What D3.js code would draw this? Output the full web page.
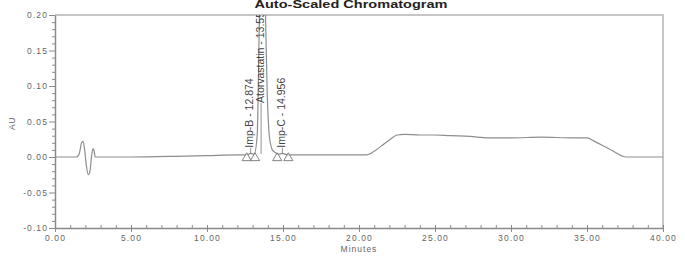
<!DOCTYPE html>
<html>
<head>
<meta charset="utf-8">
<script src="https://cdn.jsdelivr.net/npm/d3@7"></script>
<style>
  body { margin: 0; background: #fff; }
  svg { display: block; font-family: "Liberation Sans", Arial, sans-serif; }
</style>
</head>
<body>
<div class="container"></div>
<script>
// trace (minutes, AU)
const traceTime = [0, 1.4, 1.6, 1.75, 1.85, 1.95, 2.05, 2.2, 2.3, 2.4, 2.5, 2.56, 2.65, 2.8,
  5, 8, 10, 12, 12.6, 12.874, 13.1, 13.3, 13.45, 13.6, 13.75, 13.85, 13.95, 14.1, 14.3, 14.5,
  14.7, 14.956, 15.3, 17, 20.5, 21.0, 21.5, 22.0, 22.5, 23.0, 24, 25, 26, 27.3, 28.5, 30, 32, 34,
  35, 35.5, 36.5, 37.6, 40];
const traceAU = [0.000, 0.000, 0.005, 0.020, 0.022, 0.010, -0.010, -0.025, -0.020, 0.000, 0.012, 0.010, 0.000, 0.000,
  0.000, 0.001, 0.002, 0.003, 0.003, 0.005, 0.004, 0.030, 0.200, 0.400, 0.300, 0.200, 0.100, 0.030, 0.010, 0.006,
  0.004, 0.005, 0.003, 0.003, 0.003, 0.008, 0.016, 0.024, 0.031, 0.032, 0.031, 0.031, 0.030, 0.029, 0.027, 0.027, 0.028, 0.027,
  0.027, 0.022, 0.011, 0.000, 0.000];

// peak labels
const peakNames = ["Imp-B", "Atorvastatin", "Imp-C"];
const peakTimes = [12.874, 13.559, 14.956];
const peakLabelAU = [0.013, 0.076, 0.013]; // where each label starts

// integration markers (triangles on the baseline)
const markerTimes = [12.61, 13.16, 14.62, 15.35];

// axes
const xTicks = [0, 5, 10, 15, 20, 25, 30, 35, 40];
const xTickLabels = ["0.00", "5.00", "10.00", "15.00", "20.00", "25.00", "30.00", "35.00", "40.00"];
const yTicks = [-0.10, -0.05, 0.00, 0.05, 0.10, 0.15, 0.20];
const yTickLabels = ["-0.10", "-0.05", "0.00", "0.05", "0.10", "0.15", "0.20"];

const WIDTH = 685, HEIGHT = 260;
const MARGIN = { top: 15, right: 22, bottom: 32, left: 55 };
const AXIS_COLOR = "#8a8a8a";
const FRAME_COLOR = "#b4b4b4";
const TEXT_COLOR = "#666";

const svg = d3.select(".container")
  .append("svg")
  .attr("width", WIDTH)
  .attr("height", HEIGHT)
  .attr("viewBox", `0 0 ${WIDTH} ${HEIGHT}`);

svg.append("rect")
  .attr("width", WIDTH)
  .attr("height", HEIGHT)
  .attr("fill", "#fff");

const x = d3.scaleLinear()
  .domain([0, 40])
  .range([MARGIN.left, WIDTH - MARGIN.right]);

const y = d3.scaleLinear()
  .domain([-0.10, 0.20])
  .range([HEIGHT - MARGIN.bottom, MARGIN.top]);

svg.append("clipPath")
  .attr("id", "plot-clip")
  .append("rect")
  .attr("x", x(0))
  .attr("y", y(0.20))
  .attr("width", x(40) - x(0))
  .attr("height", y(-0.10) - y(0.20));

// title
svg.append("text")
  .attr("x", 351)
  .attr("y", 8)
  .attr("text-anchor", "middle")
  .attr("font-size", "10px")
  .attr("font-weight", "bold")
  .attr("fill", "#222")
  .attr("textLength", 193)
  .attr("lengthAdjust", "spacingAndGlyphs")
  .text("Auto-Scaled Chromatogram");

// frame top / right
svg.append("path")
  .attr("d", `M${x(0)},${y(0.20)}H${x(40)}V${y(-0.10)}`)
  .attr("fill", "none")
  .attr("stroke", FRAME_COLOR)
  .attr("stroke-width", 1.5);

// X axis minor ticks (inside)
svg.append("g")
  .attr("transform", `translate(0,${y(-0.10)})`)
  .call(d3.axisBottom(x)
    .tickValues(d3.range(0, 41, 1).filter(v => v % 5 !== 0))
    .tickSize(-3)
    .tickFormat(""))
  .call(g => g.select(".domain").remove())
  .call(g => g.selectAll("line").attr("stroke", AXIS_COLOR));

// X axis
svg.append("g")
  .attr("class", "x-axis")
  .attr("transform", `translate(0,${y(-0.10)})`)
  .call(d3.axisBottom(x)
    .tickValues(xTicks)
    .tickSize(4)
    .tickSizeOuter(0)
    .tickPadding(3)
    .tickFormat((d, i) => xTickLabels[i]))
  .call(g => g.select(".domain").attr("stroke", AXIS_COLOR).attr("stroke-width", 1.5))
  .call(g => g.selectAll("line").attr("stroke", AXIS_COLOR).attr("y1", -3))
  .call(g => g.selectAll("text")
    .attr("fill", TEXT_COLOR)
    .attr("font-size", "8.5px")
    .attr("letter-spacing", "1.1px")
    .attr("font-family", "Liberation Sans, Arial, sans-serif"));

// Y axis minor ticks
svg.append("g")
  .attr("transform", `translate(${x(0)},0)`)
  .call(d3.axisLeft(y)
    .tickValues(d3.range(-10, 21, 1).filter(v => v % 5 !== 0).map(v => v / 100))
    .tickSize(3)
    .tickFormat(""))
  .call(g => g.select(".domain").remove())
  .call(g => g.selectAll("line").attr("stroke", AXIS_COLOR));

// Y axis
svg.append("g")
  .attr("class", "y-axis")
  .attr("transform", `translate(${x(0)},0)`)
  .call(d3.axisLeft(y)
    .tickValues(yTicks)
    .tickSize(6)
    .tickSizeOuter(0)
    .tickPadding(1)
    .tickFormat((d, i) => yTickLabels[i]))
  .call(g => g.select(".domain").attr("stroke", AXIS_COLOR).attr("stroke-width", 1.5))
  .call(g => g.selectAll("line").attr("stroke", AXIS_COLOR))
  .call(g => g.selectAll("text")
    .attr("fill", TEXT_COLOR)
    .attr("font-size", "8.5px")
    .attr("letter-spacing", "1.1px")
    .attr("font-family", "Liberation Sans, Arial, sans-serif"));

// axis titles
svg.append("text")
  .attr("x", (x(0) + x(40)) / 2)
  .attr("y", 252)
  .attr("text-anchor", "middle")
  .attr("font-size", "8.5px")
  .attr("letter-spacing", "1px")
  .attr("fill", TEXT_COLOR)
  .text("Minutes");

svg.append("text")
  .attr("transform", `translate(15,${y(0.05) + 2}) rotate(-90)`)
  .attr("text-anchor", "middle")
  .attr("font-size", "8.5px")
  .attr("letter-spacing", "0.5px")
  .attr("fill", TEXT_COLOR)
  .text("AU");

// trace
const plot = svg.append("g").attr("clip-path", "url(#plot-clip)");
const line = d3.line()
  .x(i => x(traceTime[i]))
  .y(i => y(traceAU[i]))
  .curve(d3.curveMonotoneX);

plot.append("path")
  .datum(d3.range(traceTime.length))
  .attr("fill", "none")
  .attr("stroke", "#8e8e8e")
  .attr("stroke-width", 1.2)
  .attr("d", line);

// peak labels
peakNames.forEach((name, i) => {
  const px = x(peakTimes[i]);
  plot.append("line")
    .attr("x1", px).attr("x2", px)
    .attr("y1", y(0) - 3)
    .attr("y2", y(peakLabelAU[i]))
    .attr("stroke", "#777")
    .attr("stroke-width", 0.8);
  plot.append("text")
    .attr("transform", `translate(${px - 1},${y(peakLabelAU[i])}) rotate(-90)`)
    .attr("dy", "0.35em")
    .attr("font-size", "10.5px")
    .attr("fill", "#444")
    .text(`${name} - ${peakTimes[i].toFixed(3)}`);
});

// integration markers
svg.append("g")
  .selectAll("path")
  .data(markerTimes)
  .join("path")
  .attr("transform", d => `translate(${x(d)},${y(0) + 1})`)
  .attr("d", d3.symbol(d3.symbolTriangle, 36))
  .attr("fill", "#fff")
  .attr("fill-opacity", 0.6)
  .attr("stroke", "#777")
  .attr("stroke-width", 0.9);
</script>
</body>
</html>
